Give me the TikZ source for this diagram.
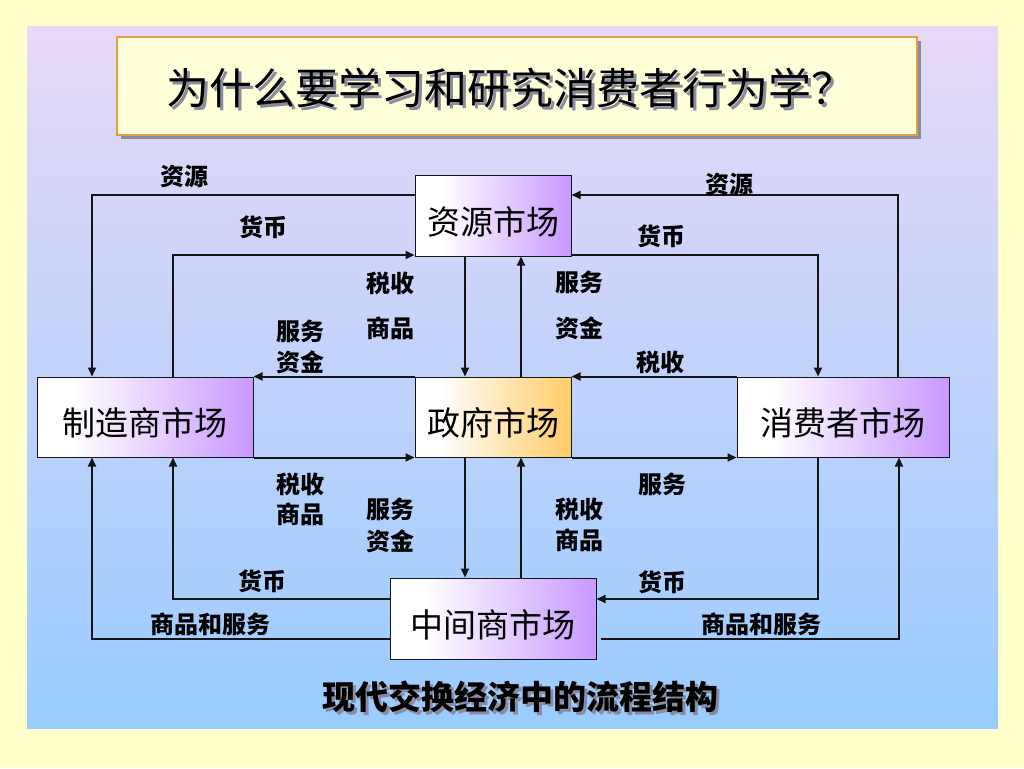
\documentclass[tikz,border=0pt]{standalone}
\usepackage{fontspec}
\newfontfamily\cjk{Noto Sans CJK SC}
\usetikzlibrary{arrows.meta}
\definecolor{pageyellow}{HTML}{FFFFCC}
\definecolor{bgtop}{HTML}{E8D9F7}
\definecolor{bgbot}{HTML}{99CCFF}
\definecolor{pur}{HTML}{C899FF}
\definecolor{org}{HTML}{FFCC66}
\definecolor{titleborder}{HTML}{E0A040}
\definecolor{titlefill}{HTML}{FFFFD8}
\definecolor{linec}{HTML}{151515}
\definecolor{shadowc}{HTML}{8A8AA0}
\pgfdeclarehorizontalshading{purpsh}{100bp}{color(0bp)=(white); color(33bp)=(white); color(75bp)=(pur); color(100bp)=(pur)}
\pgfdeclarehorizontalshading{orgsh}{100bp}{color(0bp)=(white); color(33bp)=(white); color(75bp)=(org); color(100bp)=(org)}
\newcommand{\boxtext}[1]{\raisebox{-6pt}[\height][\depth]{#1}}
\begin{document}
\begin{tikzpicture}[x=1pt,y=-1pt,
  mbox/.style={draw=linec, line width=1pt, rectangle, inner sep=0pt, font=\cjk\fontsize{33}{36}\selectfont},
  pbox/.style={mbox, shading=purpsh},
  obox/.style={mbox, shading=orgsh},
  arr/.style={draw=linec, line width=2pt, -{Triangle[length=9pt,width=8pt]}},
  lbl/.style={inner sep=0pt, font=\cjk\bfseries\fontsize{24}{29}\selectfont, align=center},
  ttl/.style={inner sep=0pt, font=\cjk\fontsize{43}{47}\selectfont},
  captxt/.style={inner sep=0pt, font=\cjk\bfseries\fontsize{33}{36}\selectfont}
]
% background
\useasboundingbox (0,0) rectangle (1024,768);
\fill[pageyellow] (0,0) rectangle (1024,768);
\shade[top color=bgtop, bottom color=bgbot] (27,27) rectangle (998,728);

% title box with shadow
\fill[shadowc] (121,41) rectangle (921,139);
\node[draw=titleborder, line width=1.5pt, fill=titlefill, minimum width=800pt, minimum height=98pt, inner sep=0pt] (tbox) at (517,86) {};
\node[ttl, text=shadowc] (tshadow) at (513,91) {为什么要学习和研究消费者行为学？};
\node[ttl, text=black] (title) at (510,88) {为什么要学习和研究消费者行为学？};

% market nodes
\node[pbox, minimum width=156pt, minimum height=81pt] (res) at (493,215.5) {\boxtext{资源市场}};
\node[pbox, minimum width=216pt, minimum height=80pt] (mfr) at (145,417) {\boxtext{制造商市场}};
\node[obox, minimum width=156pt, minimum height=80pt] (gov) at (493,417) {\boxtext{政府市场}};
\node[pbox, minimum width=212pt, minimum height=80pt] (con) at (843,417) {\boxtext{消费者市场}};
\node[pbox, minimum width=206pt, minimum height=81pt] (mid) at (493,618.5) {\boxtext{中间商市场}};

% connectors: top
\draw[arr] (res.west |- 0,195) -| (92,0 |- mfr.north);
\draw[arr] (173,0 |- mfr.north) |- (res.west |- 0,255);
\draw[arr] (gov.north west) -- (mfr.north east);
\draw[arr] (465,0 |- res.south) -- (465,0 |- gov.north);
\draw[arr] (521,0 |- gov.north) -- (521,0 |- res.south);
\draw[arr] (898,0 |- con.north) |- (res.east |- 0,195);
\draw[arr] (res.east |- 0,255) -| (818,0 |- con.north);
\draw[arr] (con.north west) -- (gov.north east);
% connectors: middle row bottom
\draw[arr] (mfr.south east) -- (gov.south west);
\draw[arr] (gov.south east) -- (con.south west);
\draw[arr] (465,0 |- gov.south) -- (465,0 |- mid.north);
\draw[arr] (521,0 |- mid.north) -- (521,0 |- gov.south);
% connectors: bottom
\draw[arr] (mid.west |- 0,599) -| (173,0 |- mfr.south);
\draw[arr] (mid.west |- 0,639) -| (92,0 |- mfr.south);
\draw[arr] (818,0 |- con.south) |- (mid.east |- 0,599);
\draw[arr, shorten <=4pt] (mid.east |- 0,639) -| (899,0 |- con.south);

% labels
\node[lbl] (l1) at (184,176) {资源};
\node[lbl] (l2) at (263,227) {货币};
\node[lbl] (l3) at (390,283) {税收};
\node[lbl] (l4) at (390,328) {商品};
\node[lbl] (l5) at (300,331) {服务};
\node[lbl] (l6) at (300,362) {资金};
\node[lbl] (l7) at (729,184) {资源};
\node[lbl] (l8) at (661,236) {货币};
\node[lbl] (l9) at (579,282) {服务};
\node[lbl] (l10) at (579,328) {资金};
\node[lbl] (l11) at (660,362) {税收};
\node[lbl] (l12) at (300,484) {税收};
\node[lbl] (l13) at (300,514) {商品};
\node[lbl] (l14) at (390,509) {服务};
\node[lbl] (l15) at (390,541) {资金};
\node[lbl] (l16) at (579,509) {税收};
\node[lbl] (l17) at (579,540) {商品};
\node[lbl] (l18) at (662,484) {服务};
\node[lbl] (l19) at (262,581) {货币};
\node[lbl] (l20) at (662,582) {货币};
\node[lbl] (l21) at (210,624) {商品和服务};
\node[lbl] (l22) at (761,624) {商品和服务};

% caption
\node[captxt, text=shadowc] (capshadow) at (523,700) {现代交换经济中的流程结构};
\node[captxt, text=black] (caption) at (520,697) {现代交换经济中的流程结构};
\end{tikzpicture}
\end{document}
